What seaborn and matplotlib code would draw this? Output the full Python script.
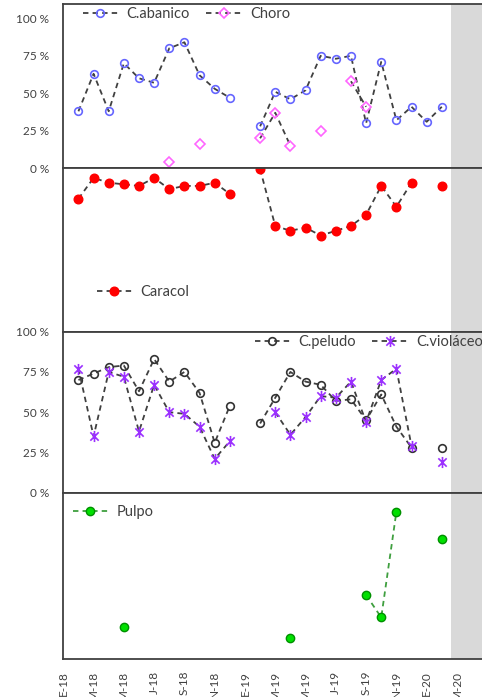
import numpy as np
import pandas as pd
import matplotlib
matplotlib.use('Agg')
import matplotlib.pyplot as plt
from matplotlib.lines import Line2D
from matplotlib.path import Path
import seaborn as sns

nan = np.nan

# meses 1..25 (1 = febrero 2018)
months = list(range(1, 26))
tick_labels = ['E-18', 'M-18', 'M-18', 'J-18', 'S-18', 'N-18', 'E-19',
               'M-19', 'M-19', 'J-19', 'S-19', 'N-19', 'E-20', 'M-20']

abanico = [38, 63, 38, 70, 60, 57, 80, 84, 62, 53, 47, nan,
           28, 51, 46, 52, 75, 73, 75, 30, 71, 32, 41, 31, 41]
choro = [nan, nan, nan, nan, nan, nan, 4, nan, 16, nan, nan, nan,
         20, 37, 15, nan, 25, nan, 58, 41, nan, nan, nan, nan, nan]
caracol = [19, 6, 9, 10, 11, 6, 13, 11, 11, 9, 16, nan,
           0.6, 36, 39, 37, 42, 39, 36, 29, 11, 24, 9, nan, 11]
peludo = [70, 74, 78, 79, 63, 83, 69, 75, 62, 31, 54, nan,
          43, 59, 75, 69, 67, 57, 58, 45, 61, 41, 28, nan, 28]
violaceo = [77, 35, 75, 72, 38, 67, 50, 49, 41, 21, 32, nan,
            nan, 50, 36, 47, 60, 59, 69, 44, 70, 77, 29, nan, 19]
pulpo = [nan, nan, nan, 84, nan, nan, nan, nan, nan, nan, nan, nan,
         nan, nan, 91, nan, nan, nan, nan, 64, 78, 12, nan, nan, 29]

sns.set_style('white')
plt.rcParams['font.family'] = ['Lato', 'DejaVu Sans']

W, H = 482, 697
LEFT = 63.3
XMAX = (W - LEFT) / 15.14
dark = '#404040'
dash = (0, (3, 2.3))

fig = plt.figure(figsize=(W / 100, H / 100), dpi=100)


def add_panel(top, bottom):
    return fig.add_axes([LEFT / W, 1 - bottom / H, (W - LEFT) / W, (bottom - top) / H])


def segments(vals):
    df = pd.DataFrame({'month': months, 'value': vals})
    df['seg'] = df['value'].isna().cumsum()
    return df.dropna()


def draw(ax, vals, line_color, **mk):
    sns.lineplot(data=segments(vals), x='month', y='value', units='seg',
                 estimator=None, ax=ax, color=line_color, linestyle=dash,
                 linewidth=1.3, legend=False, **mk)


def handle(line_color, **mk):
    return Line2D([], [], color=line_color, linestyle=dash, linewidth=1.3, **mk)


star = Path([(0, -1), (0, 1), (-0.75, -0.75), (0.75, 0.75), (-0.75, 0.75), (0.75, -0.75)],
            [Path.MOVETO, Path.LINETO] * 3)

mk_abanico = dict(marker='o', markersize=5.5, markerfacecolor='none',
                  markeredgecolor='#6666FF', markeredgewidth=1.2)
mk_choro = dict(marker='D', markersize=5.2, markerfacecolor='none',
                markeredgecolor='#FF66FF', markeredgewidth=1.2)
mk_caracol = dict(marker='o', markersize=6.2, markerfacecolor='#FF0000',
                  markeredgecolor='#FF0000', markeredgewidth=1)
mk_peludo = dict(marker='o', markersize=5.5, markerfacecolor='none',
                 markeredgecolor='#333333', markeredgewidth=1.2)
mk_violaceo = dict(marker=star, markersize=8, markerfacecolor='none',
                   markeredgecolor='#9B30FF', markeredgewidth=1.2)
mk_pulpo = dict(marker='o', markersize=6, markerfacecolor='#00E000',
                markeredgecolor='#009000', markeredgewidth=1)

ax1 = add_panel(4, 168.3)
ax2 = add_panel(168.3, 331.7)
ax3 = add_panel(331.7, 492.7)
ax4 = add_panel(492.7, 659)
axes = [ax1, ax2, ax3, ax4]

draw(ax1, abanico, dark, **mk_abanico)
draw(ax1, choro, dark, **mk_choro)
draw(ax2, caracol, dark, **mk_caracol)
draw(ax3, peludo, dark, **mk_peludo)
draw(ax3, violaceo, dark, **mk_violaceo)
draw(ax4, pulpo, '#3F9F3F', **mk_pulpo)

ax1.set_ylim(0, 109.5)
ax2.set_ylim(102, 0)
ax3.set_ylim(0, 100)
ax4.set_ylim(104, 0)

for ax in axes:
    ax.set_xlim(0, XMAX)
    ax.axvspan(25.6, 30, color='#D9D9D9', lw=0, zorder=0)
    ax.set_xlabel('')
    ax.set_ylabel('')
    ax.set_xticks(range(0, 28))
    ax.set_xticklabels([])
    for side in ['left', 'bottom', 'top']:
        ax.spines[side].set_color(dark)
        ax.spines[side].set_linewidth(1.3)
    ax.spines['right'].set_visible(False)
    ax.tick_params(axis='x', direction='in', length=5, width=1, color=dark,
                   labelbottom=False)

for ax in [ax2, ax4]:
    ax.set_yticks([])

pct = [0, 25, 50, 75, 100]
for ax in [ax1, ax3]:
    ax.set_yticks(pct)
    ax.set_yticklabels([f'{p} %' for p in pct])
    ax.tick_params(axis='y', direction='out', length=5, width=1, color=dark,
                   labelsize=8.5, labelcolor=dark, pad=5)

ax4.set_xticks(range(0, 28))
ax4.set_xticklabels([tick_labels[i // 2] if i % 2 == 0 else '' for i in range(28)],
                    rotation=90)
ax4.tick_params(axis='x', direction='out', length=5.5, labelbottom=True,
                labelsize=8.5, labelcolor=dark, pad=3)

leg_kw = dict(frameon=False, loc='upper left', fontsize=10.5, handlelength=2.4,
              handletextpad=0.6, columnspacing=1.1, borderpad=0, borderaxespad=0,
              labelcolor=dark)
ax1.legend([handle(dark, **mk_abanico), handle(dark, **mk_choro)],
           ['C.abanico', 'Choro'], ncol=2, bbox_to_anchor=(0.047, 0.98), **leg_kw)
ax2.legend([handle(dark, **mk_caracol)], ['Caracol'],
           bbox_to_anchor=(0.08, 0.285), **leg_kw)
ax3.legend([handle(dark, **mk_peludo), handle(dark, **mk_violaceo)],
           ['C.peludo', 'C.violáceo'], ncol=2, bbox_to_anchor=(0.457, 0.98), **leg_kw)
ax4.legend([handle('#3F9F3F', **mk_pulpo)], ['Pulpo'],
           bbox_to_anchor=(0.023, 0.925), **leg_kw)

fig.savefig('out.png', dpi=100)
